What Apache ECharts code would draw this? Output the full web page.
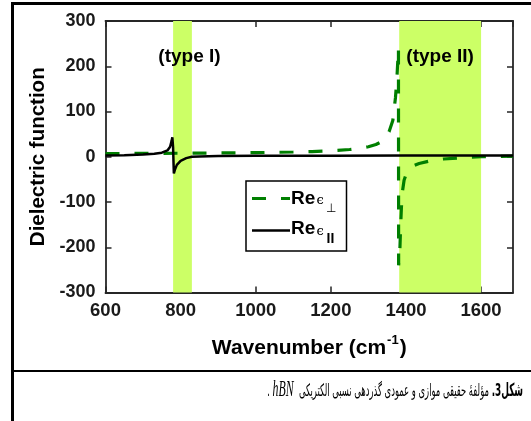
<!DOCTYPE html>
<html>
<head>
<meta charset="utf-8">
<script src="https://cdn.jsdelivr.net/npm/echarts@6/dist/echarts.min.js"></script>
<style>
  html, body { margin: 0; padding: 0; background: #fff; }
  #wrap { position: relative; width: 531px; height: 421px; overflow: hidden; }
  #chart { position: absolute; left: 0; top: 0; width: 531px; height: 421px; }
  .bl { position: absolute; background: #000; pointer-events: none; }
  #caption { position: absolute; right: 8px; top: 375px; direction: rtl; text-align: right;
    font-family: "DejaVu Sans", serif; font-size: 17px; color: #000; white-space: nowrap;
    transform-origin: right center; }
  #caption b { font-family: "DejaVu Sans"; font-weight: bold; font-size: 18px; }
  #caption i { font-family: "Liberation Serif", serif; font-style: italic; font-size: 24px; }
</style>
</head>
<body>
<div id="wrap">
  <div id="chart"></div>
  <div class="bl" style="left:11px; top:2px; width:520px; height:2.5px;"></div>
  <div class="bl" style="left:11px; top:2px; width:2.5px; height:419px;"></div>
  <div class="bl" style="left:11px; top:369.5px; width:520px; height:2.5px;"></div>
  <div id="caption"><b>شکل3.</b> مؤلفهٔ حقیقی موازی و عمودی گذردهی نسبی الکتریکی&nbsp; <i dir="ltr">hBN</i> .</div>
</div>
<script>
// ---- data ----
const perpX = [600, 700, 800, 900, 1000, 1100, 1150, 1200, 1250, 1280, 1300, 1320, 1340, 1355, 1365, 1372, 1376, 1380,
               1380.5, 1384, 1386, 1388, 1391, 1395, 1400, 1410, 1420, 1435, 1460, 1500, 1550, 1600, 1650, 1685];
const perpY = [7, 7.5, 7.8, 8.3, 9, 10.5, 11.5, 13, 16, 19, 22, 27, 35, 55, 80, 130, 175, 240,
               -240, -200, -150, -110, -75, -52, -40, -28, -20, -15, -10, -5, -2, 0, 1, 1.5];
const parX = [600, 650, 700, 730, 750, 765, 772, 776, 778, 780, 781, 782, 785, 790, 800, 815, 830, 850, 900, 1000, 1200, 1400, 1685];
const parY = [3, 3.5, 5, 6.5, 9, 14, 22, 35, 43, 20, -10, -37, -28, -18, -9, -3, 0, 0.8, 1.5, 2, 2.4, 2.6, 2.8];
const bands = [[780, 830, '(type I)'], [1382, 1600, '(type II)']];
const legendNames = ['Re', 'ϵ', '⊥', 'II'];
const xMin = 600, xMax = 1685, xStep = 200;
const yMin = -300, yMax = 300, yStep = 100;

// compress the caption to the reference width
(function () {
  const c = document.getElementById('caption');
  const w = c.getBoundingClientRect().width;
  c.style.transform = 'scaleX(' + (256 / w) + ')';
})();

const pair = (xs, ys) => xs.map((x, i) => [x, ys[i]]);
const axisColor = '#262626';
const fontFam = 'Liberation Sans, Arial, sans-serif';
const green = '#007F00';

// legend drawn as a boxed key (positions are layout, not data)
const LX = 246, LY = 181, LW = 100.5, LH = 70;
function txt(t, x, y, font) {
  return { type: 'text', x: x, y: y, z: 100, silent: true,
           style: { text: t, font: font, fill: '#000', align: 'left', verticalAlign: 'middle' } };
}
const legendGraphic = {
  type: 'group', z: 100, silent: true,
  children: [
    { type: 'rect', z: 99, shape: { x: LX, y: LY, width: LW, height: LH },
      style: { fill: '#fff', stroke: '#000', lineWidth: 1.5 } },
    { type: 'line', z: 100, shape: { x1: LX + 6, y1: 198.5, x2: LX + 44, y2: 198.5 },
      style: { stroke: green, lineWidth: 3.2, lineDash: [14, 15], lineCap: 'butt' } },
    { type: 'line', z: 100, shape: { x1: LX + 6, y1: 230.5, x2: LX + 44, y2: 230.5 },
      style: { stroke: '#000', lineWidth: 2.5 } },
    txt(legendNames[0], 291, 198.5, 'bold 19px ' + fontFam),
    txt(legendNames[1], 316.5, 201, '13px "DejaVu Serif"'),
    txt(legendNames[2], 326, 209, '12px "DejaVu Sans"'),
    txt(legendNames[0], 291, 228.5, 'bold 19px ' + fontFam),
    txt(legendNames[1], 316.5, 231.5, '13px "DejaVu Serif"'),
    txt(legendNames[3], 326.5, 239.5, 'bold 14px ' + fontFam)
  ]
};

const chart = echarts.init(document.getElementById('chart'), null, { renderer: 'canvas' });
const baseX = {
  type: 'value', min: xMin, max: xMax, interval: xStep,
  axisLine: { show: true, onZero: false, lineStyle: { color: axisColor, width: 1.8 } },
  axisTick: { show: true, inside: true, length: 6, lineStyle: { color: axisColor, width: 1.5 } },
  splitLine: { show: false }
};
const baseY = {
  type: 'value', min: yMin, max: yMax, interval: yStep,
  axisLine: { show: true, onZero: false, lineStyle: { color: axisColor, width: 1.8 } },
  axisTick: { show: true, inside: true, length: 6, lineStyle: { color: axisColor, width: 1.5 } },
  splitLine: { show: false }
};
chart.setOption({
  animation: false,
  backgroundColor: 'transparent',
  grid: { left: 105.5, right: 18, top: 21, bottom: 128.5, containLabel: false },
  xAxis: [
    Object.assign({}, baseX, {
      position: 'bottom',
      name: '{t|Wavenumber (cm}{s|-1}{t|)}',
      nameLocation: 'middle', nameGap: 41,
      nameTextStyle: { rich: {
        t: { fontFamily: fontFam, fontWeight: 'bold', fontSize: 21, color: '#000', verticalAlign: 'bottom', lineHeight: 25 },
        s: { fontFamily: fontFam, fontWeight: 'bold', fontSize: 13, color: '#000', verticalAlign: 'top', lineHeight: 25, padding: [0, 1, 10, 1] }
      } },
      axisLabel: {
        show: true, margin: 9, color: '#1a1a1a', fontFamily: fontFam, fontWeight: 'bold', fontSize: 18.5,
        showMaxLabel: false,
        formatter: v => (v % xStep === 0 ? String(v) : '')
      }
    }),
    Object.assign({}, baseX, { position: 'top', axisLabel: { show: false } })
  ],
  yAxis: [
    Object.assign({}, baseY, {
      position: 'left',
      name: 'Dielectric function', nameLocation: 'middle', nameGap: 53,
      nameTextStyle: { fontFamily: fontFam, fontWeight: 'bold', fontSize: 20.5, color: '#000' },
      axisLabel: { show: true, margin: 10, color: '#1a1a1a', fontFamily: fontFam, fontWeight: 'bold', fontSize: 18 }
    }),
    Object.assign({}, baseY, { position: 'right', axisLabel: { show: false } })
  ],
  graphic: [legendGraphic],
  series: [
    {
      type: 'line', name: 'bands', data: [], silent: true, z: 1,
      markArea: {
        silent: true,
        itemStyle: { color: '#CCFF66', opacity: 1 },
        label: { show: true, position: 'insideTop', distance: 26, color: '#000',
                 fontFamily: fontFam, fontWeight: 'bold', fontSize: 19 },
        data: bands.map((b, i) => [
          { xAxis: b[0], name: b[2], label: { offset: [i === 0 ? 7 : 0, 0] } },
          { xAxis: b[1] }
        ])
      }
    },
    {
      type: 'line', name: 'Re ϵ⊥', data: pair(perpX, perpY), symbol: 'none', z: 3,
      lineStyle: { color: green, width: 3.2, type: [14, 15], cap: 'butt' },
      itemStyle: { color: green }
    },
    {
      type: 'line', name: 'Re ϵII', data: pair(parX, parY), symbol: 'none', z: 4,
      lineStyle: { color: '#000', width: 2.5 },
      itemStyle: { color: '#000' }
    }
  ]
});
</script>
</body>
</html>
